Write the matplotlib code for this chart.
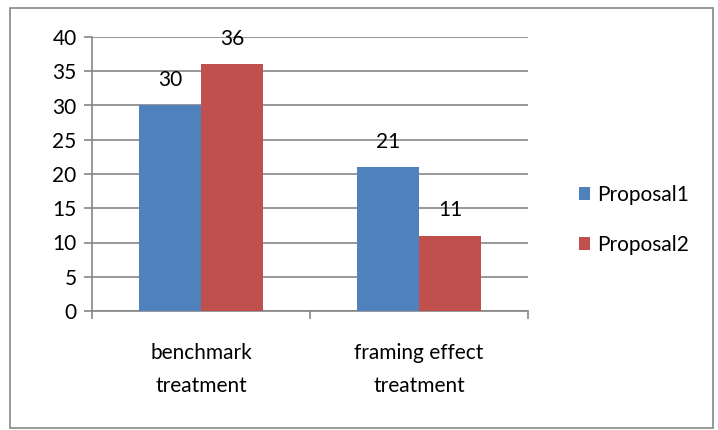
import numpy as np
import matplotlib.pyplot as plt
from matplotlib.patches import Rectangle

# data
categories = ['benchmark\ntreatment', 'framing effect\ntreatment']
series_names = ['Proposal1', 'Proposal2']
proposal1 = [30, 21]
proposal2 = [36, 11]
yticks = [0, 5, 10, 15, 20, 25, 30, 35, 40]

colors = ['#4F81BD', '#C0504D']
grid_col = '#868686'
fs = 15

plt.rcParams['font.family'] = ['Lato', 'DejaVu Sans']

fig = plt.figure(figsize=(7.18, 4.30), dpi=100)
ax = fig.add_axes([92 / 718, 1 - 311 / 430, 436 / 718, 274 / 430])

x = np.arange(len(categories))
w = 62 / 218

b1 = ax.bar(x - w / 2, proposal1, w, color=colors[0], label=series_names[0], zorder=3)
b2 = ax.bar(x + w / 2, proposal2, w, color=colors[1], label=series_names[1], zorder=3)

# value labels above bars
for bars, vals in [(b1, proposal1), (b2, proposal2)]:
    for rect, v in zip(bars, vals):
        ax.annotate(str(v), (rect.get_x() + rect.get_width() / 2, v),
                    xytext=(0, 11), textcoords='offset points',
                    ha='center', va='bottom', fontsize=fs, color='black', zorder=4)

ax.set_xlim(-0.5, 1.5)
ax.set_ylim(0, 40)
ax.set_yticks(yticks)
ax.yaxis.grid(True, color=grid_col, linewidth=1.2, zorder=0)

ax.set_xticks(x)
ax.set_xticklabels(categories, fontsize=fs, linespacing=1.8)
ax.set_xticks([-0.5, 0.5, 1.5], minor=True)
ax.tick_params(axis='x', which='major', length=0, pad=23)
ax.tick_params(axis='x', which='minor', length=6, color=grid_col, width=1.2)
ax.tick_params(axis='y', length=6, color=grid_col, width=1.2, labelsize=fs, pad=5)

for s in ['top', 'right']:
    ax.spines[s].set_visible(False)
for s in ['left', 'bottom']:
    ax.spines[s].set_color(grid_col)
    ax.spines[s].set_linewidth(1.2)

fig.legend(loc='center left', bbox_to_anchor=(560 / 718, 1 - 220 / 430),
           frameon=False, fontsize=fs, handlelength=0.55, handleheight=0.55,
           handletextpad=0.35, labelspacing=1.45)

# chart border
fig.patches.append(Rectangle((10 / 718, 2 / 430), 703 / 718, 420 / 430,
                             transform=fig.transFigure, fill=False,
                             edgecolor=grid_col, linewidth=1.2))

fig.savefig('out.png', dpi=100)
